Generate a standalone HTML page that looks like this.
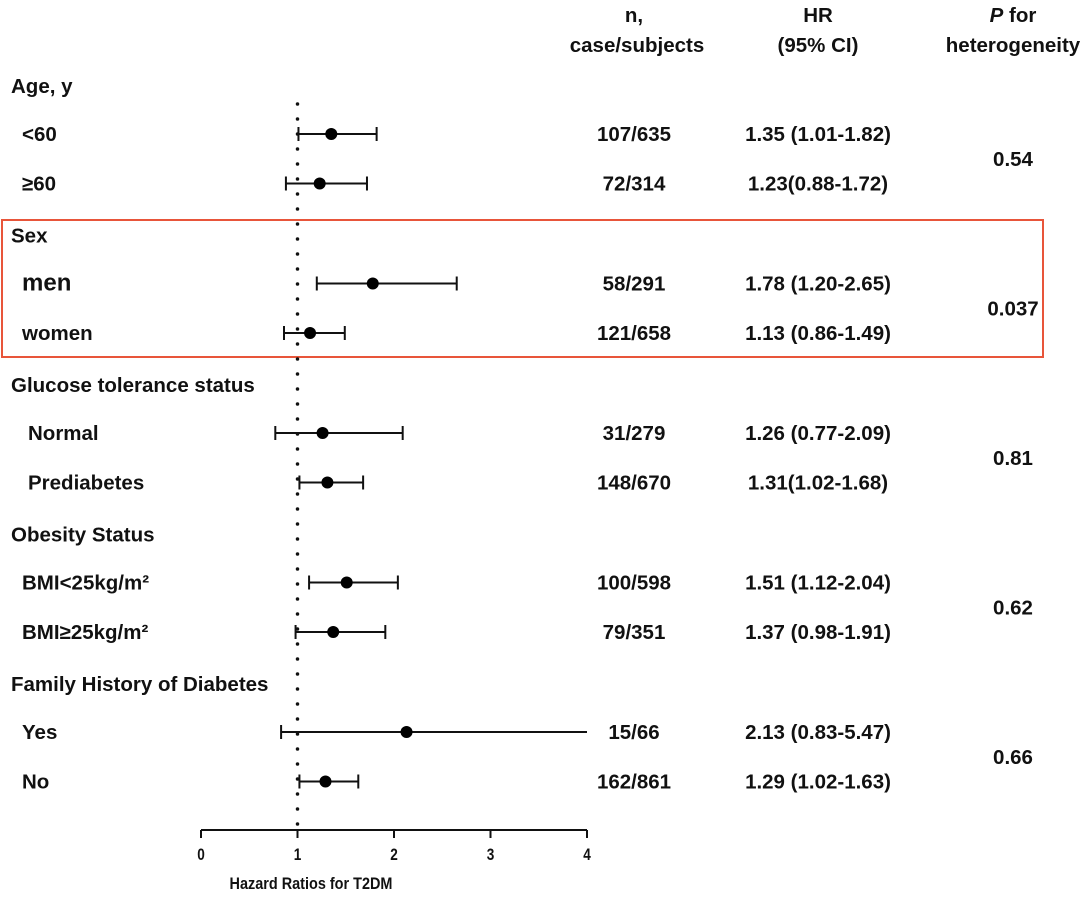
<!DOCTYPE html>
<html><head><meta charset="utf-8"><style>
body{margin:0;background:#fff;}
svg text{font-family:"Liberation Sans",sans-serif;font-weight:bold;fill:#111;}
</style></head><body>
<svg id="chart" width="1080" height="899" xmlns="http://www.w3.org/2000/svg">
<g id="g"></g>
</svg>
<script>
const labels=["<60","≥60","men","women","Normal","Prediabetes","BMI<25kg/m²","BMI≥25kg/m²","Yes","No"];
const hr=[1.35,1.23,1.78,1.13,1.26,1.31,1.51,1.37,2.13,1.29];
const lo=[1.01,0.88,1.20,0.86,0.77,1.02,1.12,0.98,0.83,1.02];
const hi=[1.82,1.72,2.65,1.49,2.09,1.68,2.04,1.91,5.47,1.63];
const nText=["107/635","72/314","58/291","121/658","31/279","148/670","100/598","79/351","15/66","162/861"];
const hrText=["1.35 (1.01-1.82)","1.23(0.88-1.72)","1.78 (1.20-2.65)","1.13 (0.86-1.49)","1.26 (0.77-2.09)","1.31(1.02-1.68)","1.51 (1.12-2.04)","1.37 (0.98-1.91)","2.13 (0.83-5.47)","1.29 (1.02-1.63)"];
const groups=["Age, y","Sex","Glucose tolerance status","Obesity Status","Family History of Diabetes"];
const pvals=["0.54","0.037","0.81","0.62","0.66"];
const ticks=[0,1,2,3,4];
const NS="http://www.w3.org/2000/svg";
const FS=20.5;
const g=document.getElementById('g');
const xs=v=>201+Math.min(v,4)*96.5;
const rowY=i=>134+Math.floor(i/2)*149.5+(i%2)*49.5;
function mk(t,a,txt){const e=document.createElementNS(NS,t);for(const k in a)e.setAttribute(k,a[k]);if(txt!==undefined)e.textContent=txt;g.appendChild(e);return e;}
let e;
e=mk('text',{x:634,y:22,'text-anchor':'middle','font-size':FS},'n,');
e=mk('text',{x:637,y:52,'text-anchor':'middle','font-size':FS},'case/subjects');
e=mk('text',{x:818,y:22,'text-anchor':'middle','font-size':FS},'HR');
e=mk('text',{x:818,y:52,'text-anchor':'middle','font-size':FS},'(95% CI)');
e=mk('text',{x:1013,y:22,'text-anchor':'middle','font-size':FS});e.innerHTML='<tspan font-style="italic">P</tspan> for';
e=mk('text',{x:1013,y:52,'text-anchor':'middle','font-size':FS},'heterogeneity');
e=mk('rect',{x:2,y:220,width:1041,height:137,fill:'none',stroke:'#e8553a','stroke-width':2});
e=mk('line',{x1:xs(1),y1:104,x2:xs(1),y2:826,stroke:'#111','stroke-width':3.5,'stroke-dasharray':'0 15','stroke-linecap':'round'});
groups.forEach((gr,k)=>{
  const y=rowY(2*k)-48+7;
  e=mk('text',{x:11,y:y,'font-size':FS},gr);
  e=mk('text',{x:1013,y:(rowY(2*k)+rowY(2*k+1))/2+7,'text-anchor':'middle','font-size':FS},pvals[k]);
});
labels.forEach((l,i)=>{
  const y=rowY(i);
  const lx=(i==4||i==5)?28:22;
  e=mk('text',{x:lx,y:y+7,'font-size':i==2?24:FS},l);
  e=mk('line',{x1:xs(lo[i]),y1:y,x2:xs(hi[i]),y2:y,stroke:'#111','stroke-width':2});
  e=mk('line',{x1:xs(lo[i]),y1:y-7,x2:xs(lo[i]),y2:y+7,stroke:'#111','stroke-width':2});
  if(hi[i]<=4){e=mk('line',{x1:xs(hi[i]),y1:y-7,x2:xs(hi[i]),y2:y+7,stroke:'#111','stroke-width':2});}
  e=mk('circle',{cx:xs(hr[i]),cy:y,r:6,fill:'#000'});
  e=mk('text',{x:634,y:y+7,'text-anchor':'middle','font-size':FS},nText[i]);
  e=mk('text',{x:818,y:y+7,'text-anchor':'middle','font-size':FS},hrText[i]);
});
e=mk('line',{x1:xs(0),y1:830,x2:xs(4),y2:830,stroke:'#111','stroke-width':2});
ticks.forEach(t=>{
  e=mk('line',{x1:xs(t),y1:830,x2:xs(t),y2:838,stroke:'#111','stroke-width':2});
  e=mk('text',{x:xs(t),y:860,'text-anchor':'middle','font-size':17,'transform':`translate(${xs(t)},0) scale(0.8,1) translate(${-xs(t)},0)`},t);
});
e=mk('text',{x:311,y:889,'text-anchor':'middle','font-size':17,'transform':'translate(311,0) scale(0.85,1) translate(-311,0)'},'Hazard  Ratios  for  T2DM');
</script>
</body></html>
